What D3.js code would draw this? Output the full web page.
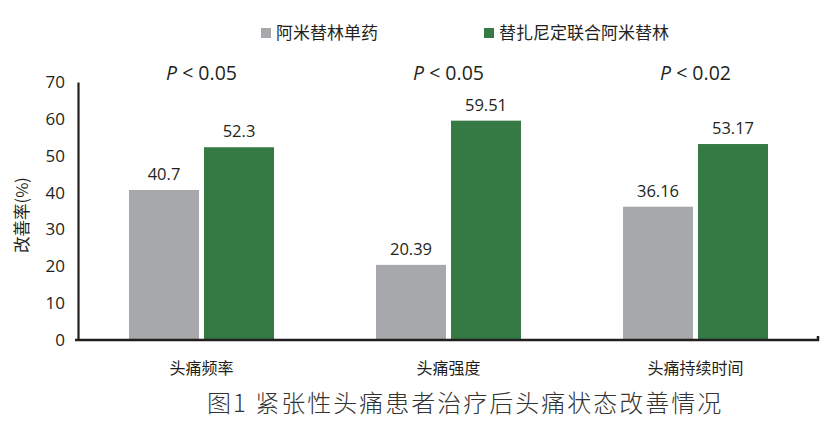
<!DOCTYPE html>
<html>
<head>
<meta charset="utf-8">
<script src="https://cdn.jsdelivr.net/npm/d3@7"></script>
<style>
  body { margin: 0; background: #fff; }
  text { font-family: "Noto Sans CJK SC", "Open Sans", sans-serif; fill: #231f20; }
</style>
</head>
<body>
<div id="chart"></div>
<script>
var categories = ["头痛频率", "头痛强度", "头痛持续时间"];
var seriesNames = ["阿米替林单药", "替扎尼定联合阿米替林"];
var monoValues = [40.7, 20.39, 36.16];
var comboValues = [52.3, 59.51, 53.17];
var valueLabels = [["40.7", "52.3"], ["20.39", "59.51"], ["36.16", "53.17"]];
var pValues = ["0.05", "0.05", "0.02"];
var yTicks = [0, 10, 20, 30, 40, 50, 60, 70];
var colors = ["#a7a8ab", "#357a44"];

var svgWidth = 824;
var svgHeight = 430;

var svg = d3.select("#chart")
  .append("svg")
  .attr("width", svgWidth)
  .attr("height", svgHeight);

// scales
var x0 = d3.scaleBand()
  .domain(categories)
  .range([78, 819])
  .paddingInner(0)
  .paddingOuter(0);

var x1 = d3.scaleBand()
  .domain(seriesNames)
  .range([x0.bandwidth() / 2 - 72.5, x0.bandwidth() / 2 + 72.5])
  .paddingInner(5 / 75);

var y = d3.scaleLinear()
  .domain([0, 70])
  .range([340, 82]);

// y axis
var leftAxis = d3.axisLeft(y).tickValues(yTicks).tickSize(0).tickPadding(13);
var yAxisG = svg.append("g")
  .attr("transform", "translate(78,0)")
  .call(leftAxis);
yAxisG.select(".domain").attr("stroke", "#231f20").attr("stroke-width", 2.2);
yAxisG.selectAll("text")
  .style("font-family", "'Open Sans', sans-serif")
  .attr("font-size", 17)
  .attr("fill", "#231f20");

// bars
var groups = svg.selectAll(".grp")
  .data(categories)
  .enter()
  .append("g")
  .attr("class", "grp")
  .attr("transform", d => `translate(${x0(d)},0)`);

groups.each(function(cat, i) {
  var g = d3.select(this);
  var vals = [monoValues[i], comboValues[i]];
  g.selectAll("rect")
    .data(vals)
    .enter()
    .append("rect")
    .attr("x", (d, j) => x1(seriesNames[j]))
    .attr("y", d => y(d))
    .attr("width", x1.bandwidth())
    .attr("height", d => y(0) - y(d))
    .attr("fill", (d, j) => colors[j]);

  g.selectAll(".vlabel")
    .data(vals)
    .enter()
    .append("text")
    .attr("class", "vlabel")
    .attr("x", (d, j) => x1(seriesNames[j]) + x1.bandwidth() / 2)
    .attr("y", d => y(d) - 10)
    .attr("text-anchor", "middle")
    .attr("font-size", 16.5)
    .style("font-family", "'Open Sans', sans-serif")
    .text((d, j) => valueLabels[i][j]);

  // p value
  var pt = g.append("text")
    .attr("x", x0.bandwidth() / 2)
    .attr("y", 80)
    .attr("text-anchor", "middle")
    .attr("font-size", 19.5)
    .style("font-family", "'Open Sans', sans-serif");
  pt.append("tspan").attr("font-style", "italic").text("P");
  pt.append("tspan").text(" < " + pValues[i]);

  // category label
  g.append("text")
    .attr("x", x0.bandwidth() / 2)
    .attr("y", 374)
    .attr("text-anchor", "middle")
    .attr("font-size", 16)
    .text(cat);
});

// baseline
var bottomAxis = d3.axisBottom(x0).tickSize(0).tickFormat("");
var xAxisG = svg.append("g")
  .attr("transform", "translate(0,340)")
  .call(bottomAxis);
xAxisG.select(".domain").remove();
svg.append("path")
  .attr("d", `M75,340H818V336`)
  .attr("fill", "none")
  .attr("stroke", "#231f20")
  .attr("stroke-width", 2.5);

// y axis title
svg.append("text")
  .attr("transform", "translate(28,215) rotate(-90)")
  .attr("text-anchor", "middle")
  .attr("font-size", 16.5)
  .text("改善率(%)");

// legend
var legendX = [261, 484];
var legend = svg.selectAll(".legend")
  .data(seriesNames)
  .enter()
  .append("g")
  .attr("class", "legend")
  .attr("transform", (d, i) => `translate(${legendX[i]},28)`);
legend.append("rect")
  .attr("width", 10)
  .attr("height", 10)
  .attr("fill", (d, i) => colors[i]);
legend.append("text")
  .attr("x", 15)
  .attr("y", 11)
  .attr("font-size", 17)
  .text(d => d);

// figure title
svg.append("text")
  .attr("x", 207)
  .attr("y", 412)
  .attr("font-size", 24)
  .attr("font-weight", 300)
  .attr("letter-spacing", 2.0)
  .style("fill", "#333")
  .text("图1 紧张性头痛患者治疗后头痛状态改善情况");
</script>
</body>
</html>
